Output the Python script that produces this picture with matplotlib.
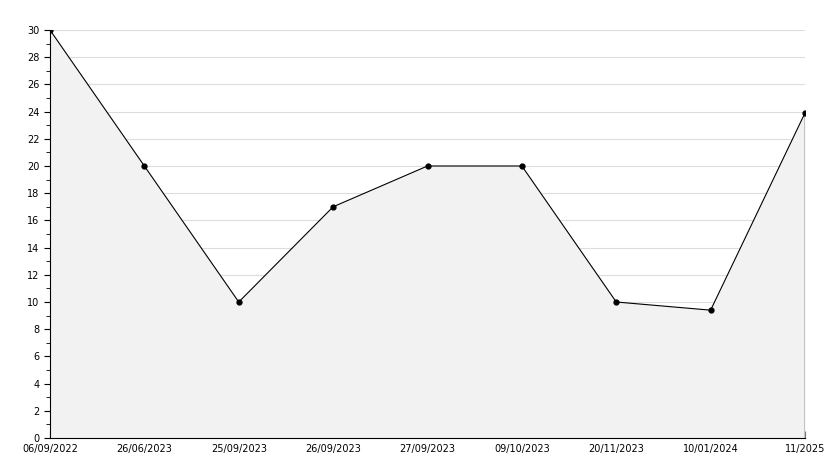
import matplotlib.pyplot as plt
from matplotlib.ticker import MultipleLocator

dates = ["06/09/2022", "26/06/2023", "25/09/2023", "26/09/2023", "27/09/2023",
         "09/10/2023", "20/11/2023", "10/01/2024", "11/2025"]
values = [30, 20, 10, 17, 20, 20, 10, 9.4, 23.9]

fig = plt.figure(figsize=(8.34, 4.68), dpi=100)
ax = fig.add_axes([50 / 834, 1 - 438 / 468, 755 / 834, 408 / 468])

x = list(range(len(values)))
ax.fill_between(x, values, 0, color="#f2f2f2", lw=0)
# closing edge of the filled area at the last point
ax.plot([x[-1], x[-1]], [0, values[-1]], color="black", lw=1)
ax.plot(x, values, color="black", lw=0.8, marker="o", ms=3.5)

ax.set_xlim(0, len(values) - 1)
ax.set_ylim(0, 30)
ax.set_xticks(x)
ax.set_xticklabels(dates, fontsize=7)
ax.yaxis.set_major_locator(MultipleLocator(2))
ax.yaxis.set_minor_locator(MultipleLocator(1))
ax.tick_params(axis="y", labelsize=7, length=4, width=0.8)
ax.tick_params(axis="y", which="minor", length=3)
ax.tick_params(axis="x", direction="in", length=5, width=0.8, pad=4)
ax.grid(axis="y", color="#dddddd", lw=0.8)
ax.set_axisbelow(True)
for side in ["top", "right"]:
    ax.spines[side].set_visible(False)

fig.savefig("out.png")
